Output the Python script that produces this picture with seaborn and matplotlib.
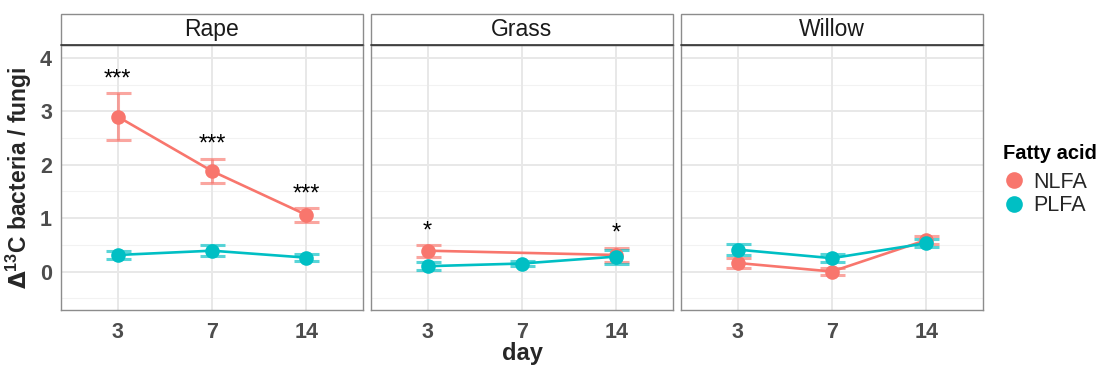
import numpy as np
import pandas as pd
import matplotlib
matplotlib.use("Agg")
import matplotlib.pyplot as plt
from matplotlib.lines import Line2D
from matplotlib.patches import Rectangle
import seaborn as sns

# ---- data -------------------------------------------------------------
days = ["3", "7", "14"]
residues = ["Rape", "Grass", "Willow"]
acids = ["NLFA", "PLFA"]

# mean and error per residue (values for days 3, 7, 14)
rape_nlfa = [2.90, 1.88, 1.06]
rape_nlfa_err = [0.44, 0.23, 0.13]
rape_plfa = [0.31, 0.39, 0.26]
rape_plfa_err = [0.07, 0.10, 0.06]

grass_nlfa = [0.39, np.nan, 0.31]
grass_nlfa_err = [0.11, np.nan, 0.13]
grass_plfa = [0.10, 0.15, 0.28]
grass_plfa_err = [0.07, 0.05, 0.13]

willow_nlfa = [0.16, 0.00, 0.59]
willow_nlfa_err = [0.10, 0.07, 0.08]
willow_plfa = [0.41, 0.25, 0.53]
willow_plfa_err = [0.10, 0.08, 0.08]

# significance labels (residue, day, label, y position)
sig_residue = ["Rape", "Rape", "Rape", "Grass", "Grass"]
sig_day = ["3", "7", "14", "3", "14"]
sig_label = ["***", "***", "***", "*", "*"]
sig_y = [3.60, 2.37, 1.45, 0.74, 0.72]

# ---- tidy table ---------------------------------------------------------
series = {
    ("Rape", "NLFA"): (rape_nlfa, rape_nlfa_err),
    ("Rape", "PLFA"): (rape_plfa, rape_plfa_err),
    ("Grass", "NLFA"): (grass_nlfa, grass_nlfa_err),
    ("Grass", "PLFA"): (grass_plfa, grass_plfa_err),
    ("Willow", "NLFA"): (willow_nlfa, willow_nlfa_err),
    ("Willow", "PLFA"): (willow_plfa, willow_plfa_err),
}
rows = []
for (res, acid), (vals, errs) in series.items():
    for d, v, e in zip(days, vals, errs):
        rows.append(dict(residue=res, acid=acid, day=d, value=v, err=e))
df = pd.DataFrame(rows).dropna()
pos = {d: i for i, d in enumerate(days)}
df["x"] = df["day"].map(pos)

palette = {"NLFA": "#F8766D", "PLFA": "#00BFC4"}

# ---- figure -------------------------------------------------------------
sns.set_theme(style="white")
plt.rcParams["font.family"] = ["Liberation Sans", "DejaVu Sans"]

W, H = 1099, 367
fig = plt.figure(figsize=(W / 100, H / 100), dpi=100)

lefts = [61, 371, 681]
pw = 302
top, bottom = 45, 310
strip_top = 14
ph = bottom - top

axes = []
for i, res in enumerate(residues):
    ax = fig.add_axes([lefts[i] / W, 1 - bottom / H, pw / W, ph / H])
    axes.append(ax)
    sub = df[df["residue"] == res]

    # grid
    for y in [-0.5, 0.5, 1.5, 2.5, 3.5]:
        ax.axhline(y, color="#F2F2F2", lw=0.8, zorder=0)
    for y in [0, 1, 2, 3, 4]:
        ax.axhline(y, color="#E8E8E8", lw=1.4, zorder=0)
    for x in range(len(days)):
        ax.axvline(x, color="#E8E8E8", lw=1.4, zorder=0)

    # error bars
    for acid in acids:
        s = sub[sub["acid"] == acid]
        ax.errorbar(s["x"], s["value"], yerr=s["err"], fmt="none",
                    ecolor=palette[acid], alpha=0.65, elinewidth=2.2,
                    capsize=9, capthick=2.2, zorder=2)

    sns.lineplot(data=sub, x="x", y="value", hue="acid", hue_order=acids,
                 palette=palette, marker="o", markersize=10.5,
                 markeredgewidth=0, linewidth=1.9, legend=False,
                 estimator=None, sort=True, ax=ax, zorder=3)

    for r, d, lab, y in zip(sig_residue, sig_day, sig_label, sig_y):
        if r == res:
            ax.text(pos[d], y, lab, ha="center", va="center",
                    fontsize=17, color="black")

    ax.set_xlim(-0.6, len(days) - 0.4)
    ax.set_ylim(-0.72, 4.24)
    ax.set_xticks(range(len(days)))
    ax.set_xticklabels(days)
    ax.set_yticks([0, 1, 2, 3, 4])
    ax.set_xlabel("")
    ax.set_ylabel("")
    for sp in ax.spines.values():
        sp.set_color("#8C8C8C")
        sp.set_linewidth(1.0)
    ax.tick_params(axis="both", length=3.5, width=0.8, color="#8C8C8C",
                   labelcolor="#4D4D4D", labelsize=15.5, pad=3)
    ax.tick_params(axis="x", pad=5.5)
    for t in ax.get_xticklabels() + ax.get_yticklabels():
        t.set_fontweight("bold")
    if i > 0:
        ax.tick_params(axis="y", left=False, labelleft=False)

    # facet strip
    sh = (top - strip_top) / ph
    ax.add_patch(Rectangle((0, 1), 1, sh, transform=ax.transAxes,
                           facecolor="white", edgecolor="#8C8C8C",
                           lw=1.0, clip_on=False, zorder=5))
    ax.plot([0, 1], [1, 1], transform=ax.transAxes, color="#333333",
            lw=1.2, clip_on=False, zorder=6)
    ax.text(0.5, 1 + sh / 2, res, transform=ax.transAxes, ha="center",
            va="center", fontsize=16.5, color="#1A1A1A", zorder=7)

axes[0].set_ylabel(r"$\mathbf{\Delta}$$\mathregular{^{13}}$C bacteria / fungi",
                   fontsize=16.5, fontweight="bold", labelpad=4)
axes[1].set_xlabel("day", fontsize=17, fontweight="bold", labelpad=-1)

# legend: title and keys
fig.text(1003 / W, 1 - 153 / H, "Fatty acid", ha="left", va="center",
         fontsize=14.5, fontweight="bold", color="black")
handles = [Line2D([0], [0], marker="o", linestyle="none", markersize=12,
                  markerfacecolor=palette[a], markeredgewidth=0) for a in acids]
leg = fig.legend(handles, acids, loc="upper left",
                 bbox_to_anchor=(1000 / W, 1 - 172 / H), frameon=False,
                 fontsize=15.5, handletextpad=0.25, labelspacing=0.1,
                 borderaxespad=0, borderpad=0, handlelength=1.3)

fig.savefig("out.png", dpi=100)
